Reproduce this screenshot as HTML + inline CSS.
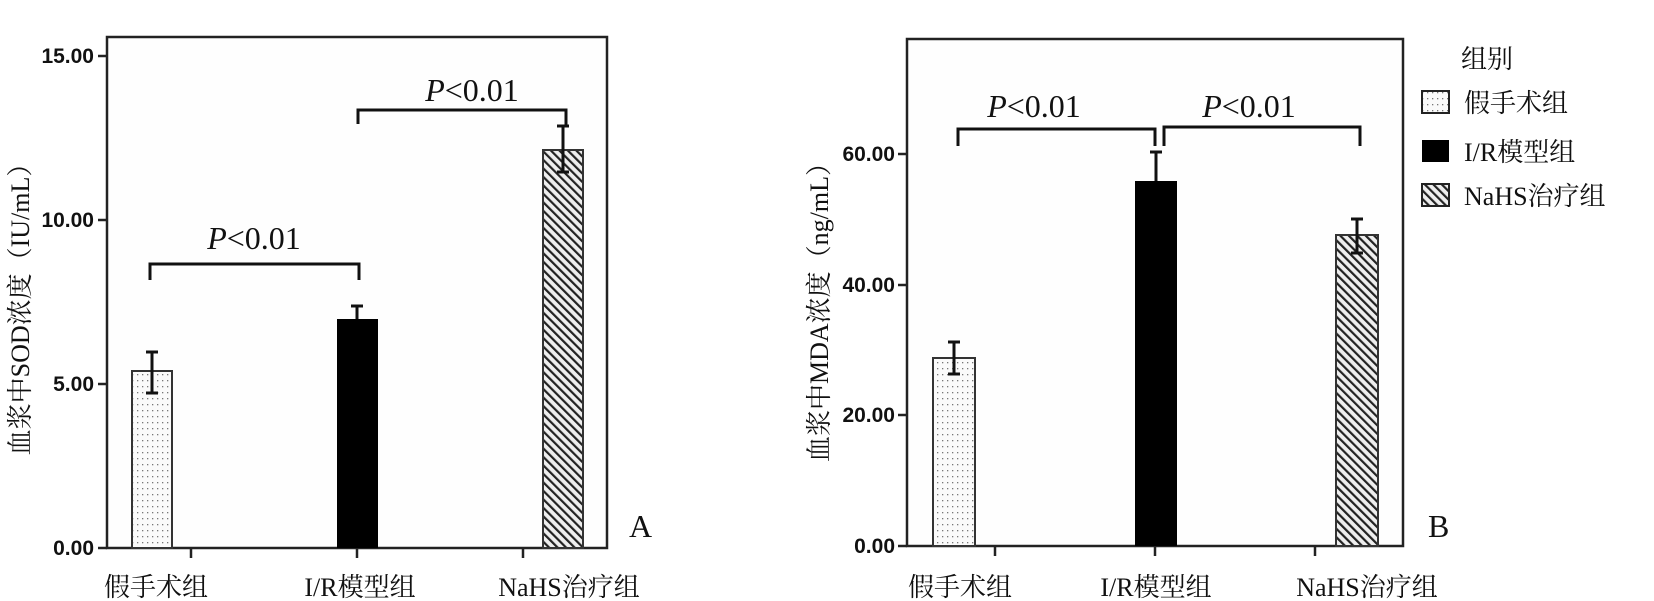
<!DOCTYPE html>
<html><head><meta charset="utf-8"><style>
html,body{margin:0;padding:0;background:#fff;}
svg{display:block;}
.t{font-family:"Liberation Sans",Arial,sans-serif;font-weight:bold;font-size:21px;fill:#111;}
.c{font-family:"Liberation Serif","Noto Serif CJK SC","Noto Sans CJK SC",serif;font-size:26px;fill:#111;}
.p{font-family:"Liberation Serif",serif;font-size:32px;fill:#111;}
</style></head><body>
<svg width="1654" height="601" viewBox="0 0 1654 601" xmlns="http://www.w3.org/2000/svg">
<defs>
<pattern id="dots" width="5" height="6" patternUnits="userSpaceOnUse">
<rect width="5" height="6" fill="#fafafa"/><rect x="2" y="2" width="1.3" height="1.3" fill="#777"/>
</pattern>
<pattern id="hatch" width="6" height="6" patternUnits="userSpaceOnUse" patternTransform="rotate(-45)">
<rect width="6" height="6" fill="#eee"/><rect x="0" y="0" width="2.2" height="6" fill="#222"/>
</pattern>
</defs>
<!-- Left chart -->
<rect x="107" y="37" width="500" height="511" fill="#fefefe" stroke="#222" stroke-width="2.5"/>
<g stroke="#222" stroke-width="2.5">
<line x1="98" y1="56" x2="107" y2="56"/><line x1="98" y1="220" x2="107" y2="220"/>
<line x1="98" y1="384" x2="107" y2="384"/><line x1="98" y1="548" x2="107" y2="548"/>
<line x1="191" y1="548" x2="191" y2="558"/><line x1="357" y1="548" x2="357" y2="558"/><line x1="523" y1="548" x2="523" y2="558"/>
</g>
<text class="t" x="94" y="63" text-anchor="end">15.00</text>
<text class="t" x="94" y="227" text-anchor="end">10.00</text>
<text class="t" x="94" y="391" text-anchor="end">5.00</text>
<text class="t" x="94" y="555" text-anchor="end">0.00</text>
<rect x="132" y="371" width="40" height="177" fill="url(#dots)" stroke="#333" stroke-width="2"/>
<rect x="337" y="319" width="41" height="229" fill="#000"/>
<rect x="543" y="150" width="40" height="398" fill="url(#hatch)" stroke="#333" stroke-width="2"/>
<g stroke="#111" stroke-width="3" fill="none">
<path d="M152 352V393M146 352H158M146 393H158"/>
<path d="M357 306V319M351 306H363"/>
<path d="M563 126V172M557 126H569M557 172H569"/>
<path d="M150 280V264H359V280"/>
<path d="M358 124V110H566V127"/>
</g>
<text class="p" x="254" y="249" text-anchor="middle"><tspan font-style="italic">P</tspan>&lt;0.01</text>
<text class="p" x="472" y="101" text-anchor="middle"><tspan font-style="italic">P</tspan>&lt;0.01</text>
<text class="c" x="156" y="596" text-anchor="middle">假手术组</text>
<text class="c" x="360" y="596" text-anchor="middle">I/R模型组</text>
<text class="c" x="569" y="596" text-anchor="middle">NaHS治疗组</text>
<text class="c" font-size="30" transform="translate(29,303) rotate(-90)" text-anchor="middle">血浆中SOD浓度（IU/mL）</text>
<text class="p" x="629" y="537" font-size="34">A</text>
<!-- Right chart -->
<rect x="907" y="39" width="496" height="507" fill="#fefefe" stroke="#222" stroke-width="2.5"/>
<g stroke="#222" stroke-width="2.5">
<line x1="898" y1="154" x2="907" y2="154"/><line x1="898" y1="285" x2="907" y2="285"/>
<line x1="898" y1="415" x2="907" y2="415"/><line x1="898" y1="546" x2="907" y2="546"/>
<line x1="995" y1="546" x2="995" y2="556"/><line x1="1155" y1="546" x2="1155" y2="556"/><line x1="1315" y1="546" x2="1315" y2="556"/>
</g>
<text class="t" x="895" y="161" text-anchor="end">60.00</text>
<text class="t" x="895" y="292" text-anchor="end">40.00</text>
<text class="t" x="895" y="422" text-anchor="end">20.00</text>
<text class="t" x="895" y="553" text-anchor="end">0.00</text>
<rect x="933" y="358" width="42" height="188" fill="url(#dots)" stroke="#333" stroke-width="2"/>
<rect x="1135" y="181" width="42" height="365" fill="#000"/>
<rect x="1336" y="235" width="42" height="311" fill="url(#hatch)" stroke="#333" stroke-width="2"/>
<g stroke="#111" stroke-width="3" fill="none">
<path d="M954 342V374M948 342H960M948 374H960"/>
<path d="M1156 152V181M1150 152H1162"/>
<path d="M1357 219V253M1351 219H1363M1351 253H1363"/>
<path d="M958 146V129H1155V146"/>
<path d="M1164 146V127H1360V146"/>
</g>
<text class="p" x="1034" y="117" text-anchor="middle"><tspan font-style="italic">P</tspan>&lt;0.01</text>
<text class="p" x="1249" y="117" text-anchor="middle"><tspan font-style="italic">P</tspan>&lt;0.01</text>
<text class="c" x="960" y="596" text-anchor="middle">假手术组</text>
<text class="c" x="1156" y="596" text-anchor="middle">I/R模型组</text>
<text class="c" x="1367" y="596" text-anchor="middle">NaHS治疗组</text>
<text class="c" font-size="30" transform="translate(828,306) rotate(-90)" text-anchor="middle">血浆中MDA浓度（ng/mL）</text>
<text class="p" x="1428" y="537" font-size="34">B</text>
<!-- Legend -->
<text class="c" x="1461" y="68" font-size="30">组别</text>
<rect x="1422" y="91" width="27" height="22" fill="url(#dots)" stroke="#222" stroke-width="2"/>
<text class="c" x="1464" y="112" font-size="27">假手术组</text>
<rect x="1422" y="140" width="27" height="22" fill="#000"/>
<text class="c" x="1464" y="161" font-size="27">I/R模型组</text>
<rect x="1422" y="184" width="27" height="22" fill="url(#hatch)" stroke="#222" stroke-width="2"/>
<text class="c" x="1464" y="205" font-size="27">NaHS治疗组</text>
</svg>
</body></html>
